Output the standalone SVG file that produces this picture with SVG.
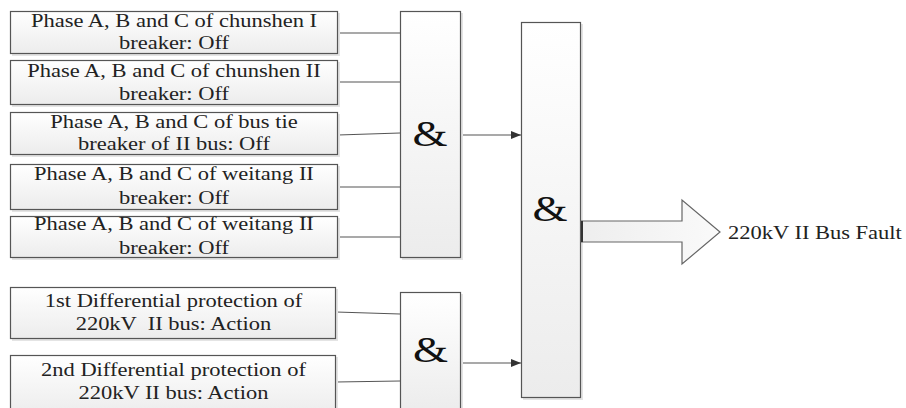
<svg xmlns="http://www.w3.org/2000/svg" width="906" height="408" viewBox="0 0 906 408">
<style>
.box{fill:url(#g);stroke:#555;stroke-width:1.2}
.sh{fill:#e4e4e4}
.t{font-family:"Liberation Serif","Times New Roman",serif;font-size:18px;fill:#222;text-anchor:middle}
.amp{font-family:"Liberation Serif","Times New Roman",serif;font-size:36px;fill:#111;text-anchor:middle}
.c{stroke:#555;stroke-width:1.2;fill:none}
.out{font-family:"Liberation Serif","Times New Roman",serif;font-size:18px;fill:#222}
</style>
<defs>
<linearGradient id="g" x1="0" y1="0" x2="0" y2="1">
<stop offset="0" stop-color="#ffffff"/>
<stop offset="1" stop-color="#ececec"/>
</linearGradient>
<linearGradient id="ga" x1="0" y1="0" x2="1" y2="0">
<stop offset="0" stop-color="#eeeeee"/>
<stop offset="1" stop-color="#fafafa"/>
</linearGradient>
<marker id="ah" markerWidth="10" markerHeight="8" refX="10" refY="4" orient="auto" markerUnits="userSpaceOnUse">
<path d="M0,0 L10,4 L0,8 Z" fill="#333"/>
</marker>
</defs>
<rect width="906" height="408" fill="#fff"/>

<g id="connectors">
<line class="c" x1="338" y1="33" x2="400" y2="33"/>
<line class="c" x1="338" y1="82" x2="400" y2="82"/>
<line class="c" x1="338" y1="135" x2="400" y2="133"/>
<line class="c" x1="338" y1="187" x2="400" y2="187"/>
<line class="c" x1="338" y1="237" x2="400" y2="237"/>
<line class="c" x1="336" y1="312" x2="400" y2="314"/>
<line class="c" x1="336" y1="382" x2="400" y2="381"/>
<line class="c" x1="461" y1="135" x2="521" y2="135" marker-end="url(#ah)"/>
<line class="c" x1="461" y1="363" x2="521" y2="363" marker-end="url(#ah)"/>
</g>

<g id="in1">
<rect class="sh" x="12" y="13" width="328" height="43"/>
<rect class="box" x="10.5" y="11.5" width="327" height="42"/>
<text class="t" transform="scale(1.25 1)" x="139.2" y="27">Phase A, B and C of chunshen I</text>
<text class="t" transform="scale(1.25 1)" x="139.2" y="49">breaker: Off</text>
</g>
<g id="in2">
<rect class="sh" x="12" y="62" width="328" height="45"/>
<rect class="box" x="10.5" y="60.5" width="327" height="44"/>
<text class="t" transform="scale(1.25 1)" x="139.2" y="77">Phase A, B and C of chunshen II</text>
<text class="t" transform="scale(1.25 1)" x="139.2" y="100">breaker: Off</text>
</g>
<g id="in3">
<rect class="sh" x="12" y="114" width="328" height="43"/>
<rect class="box" x="10.5" y="112.5" width="327" height="42"/>
<text class="t" transform="scale(1.25 1)" x="139.2" y="128">Phase A, B and C of bus tie</text>
<text class="t" transform="scale(1.25 1)" x="139.2" y="150">breaker of II bus: Off</text>
</g>
<g id="in4">
<rect class="sh" x="12" y="166" width="328" height="46"/>
<rect class="box" x="10.5" y="164.5" width="327" height="45"/>
<text class="t" transform="scale(1.25 1)" x="139.2" y="180">Phase A, B and C of weitang II</text>
<text class="t" transform="scale(1.25 1)" x="139.2" y="204">breaker: Off</text>
</g>
<g id="in5">
<rect class="sh" x="12" y="218" width="328" height="42"/>
<rect class="box" x="10.5" y="216.5" width="327" height="41"/>
<text class="t" transform="scale(1.25 1)" x="139.2" y="230">Phase A, B and C of weitang II</text>
<text class="t" transform="scale(1.25 1)" x="139.2" y="254">breaker: Off</text>
</g>
<g id="in6">
<rect class="sh" x="12" y="289" width="326" height="52"/>
<rect class="box" x="10.5" y="287.5" width="325" height="51"/>
<text class="t" transform="scale(1.25 1)" x="138.8" y="307">1st Differential protection of</text>
<text class="t" transform="scale(1.25 1)" x="138.8" y="330" xml:space="preserve">220kV  II bus: Action</text>
</g>
<g id="in7">
<rect class="sh" x="12" y="357" width="326" height="60"/>
<rect class="box" x="10.5" y="355.5" width="325" height="60"/>
<text class="t" transform="scale(1.25 1)" x="138.8" y="376">2nd Differential protection of</text>
<text class="t" transform="scale(1.25 1)" x="138.8" y="399">220kV II bus: Action</text>
</g>

<g id="and1">
<rect class="sh" x="402" y="13" width="61" height="247"/>
<rect class="box" x="400.5" y="11.5" width="60" height="246"/>
<text class="amp" transform="scale(1.25 1)" x="344" y="146">&amp;</text>
</g>
<g id="and2">
<rect class="sh" x="402" y="294" width="61" height="120"/>
<rect class="box" x="400.5" y="292.5" width="60" height="120"/>
<text class="amp" transform="scale(1.25 1)" x="344.4" y="362">&amp;</text>
</g>
<g id="and3">
<rect class="sh" x="523" y="24" width="60" height="376"/>
<rect class="box" x="521.5" y="22.5" width="59" height="375"/>
<text class="amp" transform="scale(1.25 1)" x="440" y="221">&amp;</text>
</g>

<g id="output">
<path d="M581,221 L682,221 L682,200 L720,232 L682,264 L682,242 L581,242 Z" fill="url(#ga)" stroke="#666" stroke-width="1.2" stroke-linejoin="miter"/>
<line x1="582" y1="221" x2="582" y2="242" stroke="#333" stroke-width="2"/>
<text class="out" transform="scale(1.25 1)" x="582.4" y="239">220kV II Bus Fault</text>
</g>
</svg>
